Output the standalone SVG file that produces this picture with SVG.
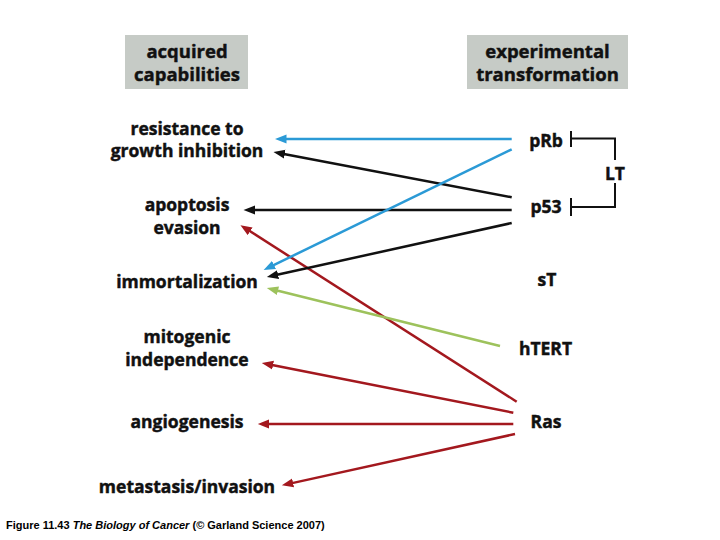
<svg xmlns="http://www.w3.org/2000/svg" width="720" height="540" viewBox="0 0 720 540">
<defs>
<style>
.hdr{font-family:"Open Sans","Liberation Sans",sans-serif;font-weight:bold;font-size:18.5px;text-anchor:middle;fill:#111;stroke:#111;stroke-width:0.45}
.lbl{font-family:"Open Sans","Liberation Sans",sans-serif;font-weight:bold;font-size:17.5px;text-anchor:middle;fill:#111;stroke:#111;stroke-width:0.45}
.box{fill:#c6cbc6}
.cap{font-family:"Liberation Sans",Arial,sans-serif;font-weight:bold;font-size:11px;fill:#000}
.ln{fill:none;stroke-width:2.5}
.blue{stroke:#2b9ad6}
.black{stroke:#111}
.red{stroke:#a3181e}
.green{stroke:#9dc25c}
.brk{fill:none;stroke:#111;stroke-width:2}
</style>
<marker id="aBlue" markerUnits="userSpaceOnUse" markerWidth="12" markerHeight="10" refX="1" refY="5" orient="auto" viewBox="0 0 12 10"><path d="M0,0.5 L11.5,5 L0,9.5 z" fill="#2b9ad6"/></marker>
<marker id="aBlack" markerUnits="userSpaceOnUse" markerWidth="12" markerHeight="10" refX="1" refY="5" orient="auto" viewBox="0 0 12 10"><path d="M0,0.5 L11.5,5 L0,9.5 z" fill="#111"/></marker>
<marker id="aRed" markerUnits="userSpaceOnUse" markerWidth="12" markerHeight="10" refX="1" refY="5" orient="auto" viewBox="0 0 12 10"><path d="M0,0.5 L11.5,5 L0,9.5 z" fill="#a3181e"/></marker>
<marker id="aGreen" markerUnits="userSpaceOnUse" markerWidth="12" markerHeight="10" refX="1" refY="5" orient="auto" viewBox="0 0 12 10"><path d="M0,0.5 L11.5,5 L0,9.5 z" fill="#9dc25c"/></marker>
</defs>
<rect width="720" height="540" fill="#ffffff"/>

<g id="header-acquired">
<rect class="box" x="125" y="35" width="123" height="54"/>
<text class="hdr" x="187" y="57.5">acquired</text>
<text class="hdr" x="187" y="81">capabilities</text>
</g>
<g id="header-experimental">
<rect class="box" x="467" y="35" width="161" height="54"/>
<text class="hdr" x="547.5" y="57.5">experimental</text>
<text class="hdr" x="547.5" y="81">transformation</text>
</g>

<g id="node-resistance"><text class="lbl" x="187" y="134.5">resistance to</text><text class="lbl" x="187" y="157">growth inhibition</text></g>
<g id="node-apoptosis"><text class="lbl" x="187" y="211">apoptosis</text><text class="lbl" x="187" y="233.5">evasion</text></g>
<g id="node-immortalization"><text class="lbl" x="187" y="288">immortalization</text></g>
<g id="node-mitogenic"><text class="lbl" x="187" y="343">mitogenic</text><text class="lbl" x="187" y="366">independence</text></g>
<g id="node-angiogenesis"><text class="lbl" x="187" y="427.5">angiogenesis</text></g>
<g id="node-metastasis"><text class="lbl" x="187" y="493">metastasis/invasion</text></g>

<g id="node-pRb"><text class="lbl" x="546" y="146.5">pRb</text></g>
<g id="node-p53"><text class="lbl" x="546" y="213">p53</text></g>
<g id="node-sT"><text class="lbl" x="547" y="286">sT</text></g>
<g id="node-hTERT"><text class="lbl" x="545.5" y="355">hTERT</text></g>
<g id="node-Ras"><text class="lbl" x="546" y="427.5">Ras</text></g>

<g id="node-LT">
<path class="brk" d="M571,131 V147 M571,138.5 H615 V160 M615,183 V207 H571 M571,198 V216"/>
<text class="lbl" x="615" y="180">LT</text>
</g>

<g id="connectors">
<line class="ln blue" x1="511.7" y1="139" x2="285.5" y2="139" marker-end="url(#aBlue)"/>
<line class="ln black" x1="511.7" y1="197.3" x2="283.8" y2="154" marker-end="url(#aBlack)"/>
<line class="ln black" x1="511.7" y1="210" x2="254" y2="210" marker-end="url(#aBlack)"/>
<line class="ln red" x1="516.7" y1="401.7" x2="249.3" y2="230.8" marker-end="url(#aRed)"/>
<line class="ln blue" x1="511.7" y1="149.3" x2="273.1" y2="265.4" marker-end="url(#aBlue)"/>
<line class="ln black" x1="511.7" y1="223" x2="277.1" y2="274.8" marker-end="url(#aBlack)"/>
<line class="ln green" x1="500" y1="346" x2="277" y2="290.5" marker-end="url(#aGreen)"/>
<line class="ln red" x1="513.3" y1="412.7" x2="272.1" y2="365" marker-end="url(#aRed)"/>
<line class="ln red" x1="513.3" y1="424" x2="268.3" y2="424" marker-end="url(#aRed)"/>
<line class="ln red" x1="515" y1="434" x2="292.1" y2="483.1" marker-end="url(#aRed)"/>
</g>

<text class="cap" x="6" y="529">Figure 11.43  <tspan font-style="italic">The Biology of Cancer</tspan> (© Garland Science 2007)</text>
</svg>
